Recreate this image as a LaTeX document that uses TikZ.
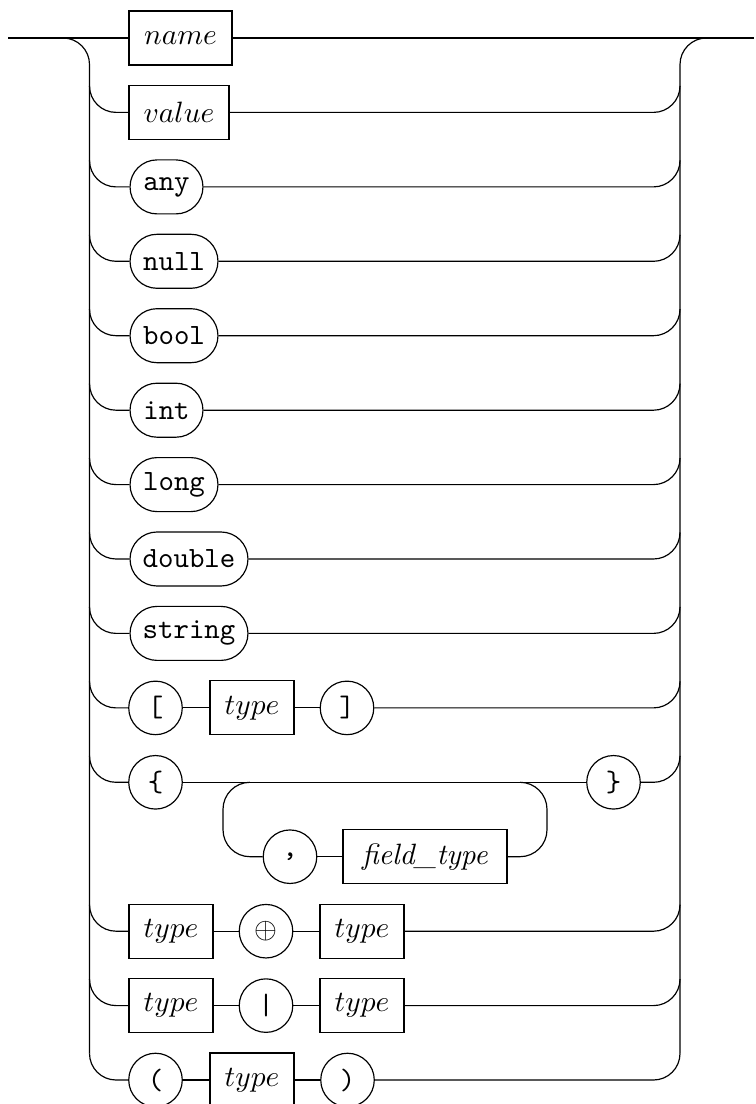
\documentclass[tikz,border=0pt]{standalone}
\begin{document}
\begin{tikzpicture}[x=0.34pt,y=-0.34pt, line width=0.4pt,
  term/.style={draw, rectangle, rounded corners=9.18pt, minimum height=18.36pt, inner xsep=0pt, inner ysep=0pt, font=\ttfamily},
  nonterm/.style={draw, rectangle, minimum height=18.36pt, inner xsep=0pt, inner ysep=0pt},
  sym/.style={draw, circle, minimum size=18.2pt, inner sep=0pt, font=\ttfamily}]
\useasboundingbox (0,0) rectangle (755,1104);
\newcommand\branch[3]{%
  \draw (89.5,#1-26.5) .. controls (89.5,#1-11.9) and (101.4,#1) .. (116,#1) -- (#2.west);
  \draw (#3.east) -- (653.5,#1) .. controls (668.1,#1) and (680,#1-11.9) .. (680,#1-26.5);}
% nodes
\node[nonterm, minimum width=35pt] (name) at (180.5,38) {$name$};
\node[nonterm, minimum width=34pt] (value) at (179,112.4) {$value$};
\node[term, minimum width=24.8pt] (any) at (166.5,186.9) {any};
\node[term, minimum width=29.9pt] (null) at (174,261.3) {null};
\node[term, minimum width=29.9pt] (bool) at (174,335.7) {bool};
\node[term, minimum width=24.8pt] (int) at (166.5,410.2) {int};
\node[term, minimum width=29.9pt] (long) at (174,484.6) {long};
\node[term, minimum width=40.1pt] (double) at (189,559) {double};
\node[term, minimum width=40.1pt] (string) at (189,633.4) {string};
\node[sym] (lbrack) at (155.5,707.9) {[};
\node[nonterm, minimum width=28.56pt] (typeA) at (252,707.9) {$type$};
\node[sym] (rbrack) at (347,707.9) {]};
\node[sym] (lbrace) at (155.5,782.3) {\{};
\node[sym] (rbrace) at (613.5,782.3) {\}};
\node[sym] (comma) at (290,856.7) {,};
\node[nonterm, minimum width=55.76pt] (field) at (425,856.7) {\textit{field\_type}};
\node[nonterm, minimum width=28.56pt] (typeB) at (171,931.2) {$type$};
\node[sym] (oplus) at (266,931.2) {$\oplus$};
\node[nonterm, minimum width=28.56pt] (typeC) at (362,931.2) {$type$};
\node[nonterm, minimum width=28.56pt] (typeD) at (171,1005.6) {$type$};
\node[sym] (bar) at (266,1005.6) {|};
\node[nonterm, minimum width=28.56pt] (typeE) at (362,1005.6) {$type$};
\node[sym] (lpar) at (155.5,1080) {(};
\node[nonterm, minimum width=28.56pt] (typeF) at (252,1080) {$type$};
\node[sym] (rpar) at (347.5,1080) {)};
% top line and verticals
\coordinate (start) at (8,38);
\coordinate (finish) at (754,38);
\draw (start) -- (name.west);
\draw (name.east) -- (finish);
\draw (63,38) .. controls (77.6,38) and (89.5,49.9) .. (89.5,64.5) -- (89.5,1053.5);
\draw (680,1053.5) -- (680,64.5) .. controls (680,49.9) and (691.9,38) .. (706.5,38);
% branches
\branch{112.4}{value}{value}
\branch{186.9}{any}{any}
\branch{261.3}{null}{null}
\branch{335.7}{bool}{bool}
\branch{410.2}{int}{int}
\branch{484.6}{long}{long}
\branch{559}{double}{double}
\branch{633.4}{string}{string}
\branch{707.9}{lbrack}{rbrack}
\draw (lbrack) -- (typeA); \draw (typeA) -- (rbrack);
\branch{782.3}{lbrace}{rbrace}
\draw (lbrace) -- (rbrace);
\draw (250,782.3) .. controls (235.1,782.3) and (223,794.4) .. (223,809.3) -- (223,829.7) .. controls (223,844.6) and (235.1,856.7) .. (250,856.7) -- (comma.west);
\draw (comma) -- (field);
\draw (field.east) -- (520,856.7) .. controls (534.9,856.7) and (547,844.6) .. (547,829.7) -- (547,809.3) .. controls (547,794.4) and (534.9,782.3) .. (520,782.3);
\branch{931.2}{typeB}{typeC}
\draw (typeB) -- (oplus); \draw (oplus) -- (typeC);
\branch{1005.6}{typeD}{typeE}
\draw (typeD) -- (bar); \draw (bar) -- (typeE);
\branch{1080}{lpar}{rpar}
\draw (lpar) -- (typeF); \draw (typeF) -- (rpar);
\end{tikzpicture}
\end{document}
